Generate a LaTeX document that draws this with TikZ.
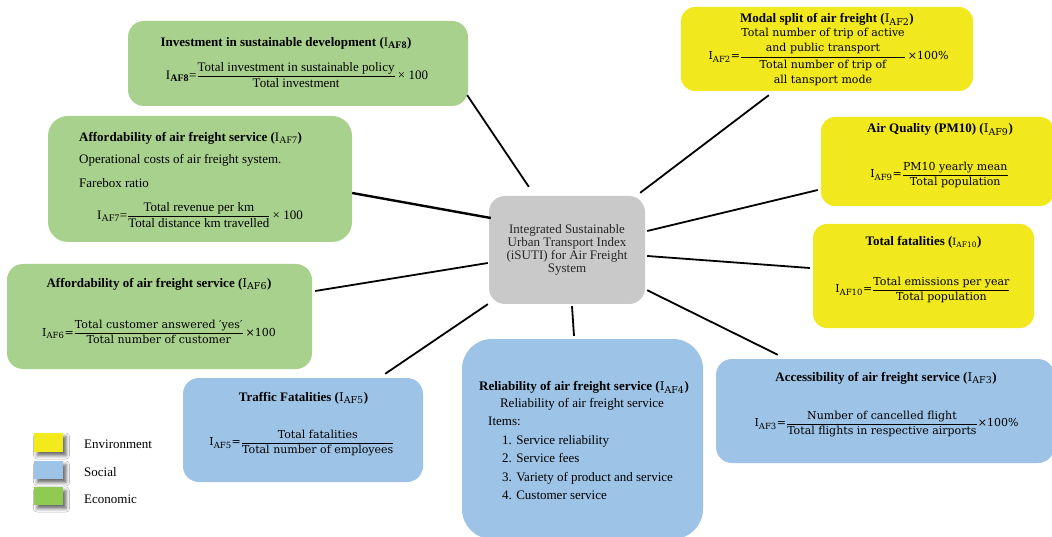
\documentclass[tikz,border=0pt]{standalone}
\usepackage{fontspec}
\usepackage{amsmath}
\setmainfont{Liberation Serif}
\newfontfamily\camb{DejaVu Serif}
\DeclareMathSizes{13}{13}{10}{7}
\DeclareMathSizes{12}{12}{9.5}{7}
\DeclareMathSizes{11}{11}{8.5}{6}
\DeclareMathSizes{10}{10}{7.5}{5}
\usetikzlibrary{calc,shadows.blur}
\definecolor{gfill}{HTML}{A9D18E}
\definecolor{yfill}{HTML}{F1E81D}
\definecolor{bfill}{HTML}{9DC3E6}
\definecolor{cfill}{HTML}{C9C9C9}
\definecolor{legG}{HTML}{8FCB52}
\definecolor{legY}{HTML}{F2EA1A}
\definecolor{legB}{HTML}{9DC3E6}
\newcommand{\myfrac}[2]{$\dfrac{\text{#1}}{\text{#2}}$}
\tikzset{
  panel/.style={draw=none, inner sep=0pt, rounded corners=#1},
  boxG/.style={panel=16pt, fill=gfill},
  boxY/.style={panel=14pt, fill=yfill},
  boxB/.style={panel=16pt, fill=bfill},
  boxC/.style={panel=16pt, fill=cfill},
  txt/.style={inner sep=0pt, font=\fontsize{13}{15}\selectfont},
  ctxt/.style={inner sep=0pt, font=\camb\fontsize{11}{14.5}\selectfont},
  conn/.style={line width=1.8pt, black},
  legbox/.style={draw=none, inner sep=0pt, minimum width=29pt,
     blur shadow={shadow xshift=3pt, shadow yshift=-3.5pt, shadow blur radius=3.5pt, shadow opacity=60}},
}
\begin{document}
\begin{tikzpicture}[x=1pt,y=-1pt]
\useasboundingbox[fill=white] (0,0) rectangle (1052,537);

% ---- boxes ----
\node[boxC, minimum width=156pt, minimum height=108pt] (c) at (567,250) {};
\node[boxG, minimum width=340pt, minimum height=85pt] (af8) at (298,63.5) {};
\node[boxG, panel=20pt, minimum width=304pt, minimum height=126pt] (af7) at (200,179) {};
\node[boxG, minimum width=305pt, minimum height=105pt] (af6) at (159.5,316.5) {};
\node[boxB, minimum width=240pt, minimum height=104pt] (af5) at (303,430) {};
\node[boxB, panel=30pt, minimum width=241pt, minimum height=200pt] (af4) at (582.5,439) {};
\node[boxB, minimum width=338pt, minimum height=104pt] (af3) at (885,411) {};
\node[boxY, minimum width=221pt, minimum height=104pt] (af10) at (923.5,276) {};
\node[boxY, minimum width=233pt, minimum height=89pt] (af9) at (937.5,161.5) {};
\node[boxY, minimum width=292pt, minimum height=84pt] (af2) at (827,49) {};

% ---- connectors ----
\draw[conn] ($(af8.south east)+(-1,-11)$) -- ($(c.north west)+(40,-9)$);
\draw[conn, line width=2.4pt] ($(af7.east)+(0,14)$) -- ($(c.west)+(2,-32)$);
\draw[conn] ($(af6.east)+(3,-25.5)$) -- ($(c.west)+(-1,13)$);
\draw[conn] ($(af5.north east)+(-38,-4)$) -- ($(c.south west)+(-1,0)$);
\draw[conn] ($(af4.north)+(-8.5,-3)$) -- ($(c.south)+(5,2)$);
\draw[conn] ($(af3.north west)+(62,-4)$) -- ($(c.south east)+(2,-14)$);
\draw[conn] ($(af10.west)+(-3,-8)$) -- ($(c.east)+(2,6)$);
\draw[conn] ($(af9.west)+(-3,28.5)$) -- ($(c.east)+(2,-19)$);
\draw[conn] ($(af2.south west)+(88,4)$) -- ($(c.north east)+(-5,-3)$);

% ---- centre text ----
\node[inner sep=0pt, align=center, text=black!85, font=\fontsize{13}{13}\selectfont] (ct) at (567,250)
  {Integrated Sustainable\\Urban Transport Index\\(iSUTI) for Air Freight\\System};

% ---- AF8 ----
\node[txt] (af8t) at (286,43) {\textbf{Investment in sustainable development (}I$_{\textbf{AF8}}$\textbf{)}};
\node[txt] (af8f) at (297,75) {I$_{\textbf{AF8}}$=\myfrac{Total investment in sustainable policy}{Total investment}\,× 100};

% ---- AF7 ----
\node[txt, anchor=west] (af7t) at (79,138) {\textbf{Affordability of air freight service (}I$_{\text{AF7}}$\textbf{)}};
\node[txt, anchor=west] (af7a) at (79,160) {Operational costs of air freight system.};
\node[txt, anchor=west] (af7b) at (79,183) {Farebox ratio};
\node[txt] (af7f) at (200,215) {I$_{\text{AF7}}$=\myfrac{Total revenue per km}{Total distance km travelled}\,× 100};

% ---- AF6 ----
\node[txt] (af6t) at (159,284) {\textbf{Affordability of air freight service (}{\camb\fontsize{12}{14}\selectfont I$_{\text{AF6}}$}\textbf{)}};
\node[ctxt] (af6f) at (159,332) {I$_{\text{AF6}}$=\myfrac{Total customer answered ′yes′}{Total number of customer}\,×100};

% ---- AF5 ----
\node[txt] (af5t) at (303.5,398) {\textbf{Traffic Fatalities (}{\camb\fontsize{12}{14}\selectfont I$_{\text{AF5}}$}\textbf{)}};
\node[ctxt] (af5f) at (302,443) {I$_{\text{AF5}}$=\myfrac{Total fatalities}{Total number of employees}};

% ---- AF4 ----
\node[txt] (af4t) at (584,387) {\textbf{Reliability of air freight service (}{\camb\fontsize{12}{14}\selectfont I$_{\text{AF4}}$}\textbf{)}};
\node[txt, anchor=base] (af4a) at (582,407.5) {Reliability of air freight service};
\node[txt, anchor=base west] (af4b) at (488,425.5) {Items:};
\node[txt, anchor=base west] (af4c) at (502,444.5) {1. Service reliability};
\node[txt, anchor=base west] (af4d) at (502,462.5) {2. Service fees};
\node[txt, anchor=base west] (af4e) at (502,481.5) {3. Variety of product and service};
\node[txt, anchor=base west] (af4f) at (502,499.5) {4. Customer service};

% ---- AF3 ----
\node[txt] (af3t) at (886,378) {\textbf{Accessibility of air freight service (}{\camb\fontsize{12}{14}\selectfont I$_{\text{AF3}}$}\textbf{)}};
\node[ctxt] (af3f) at (886.5,424) {I$_{\text{AF3}}$=\myfrac{Number of cancelled flight}{Total flights in respective airports}×100\%};

% ---- AF10 ----
\node[txt] (af10t) at (923.5,242) {\textbf{Total fatalities (}{\camb\fontsize{10}{12}\selectfont I$_{\text{AF10}}$}\textbf{)}};
\node[ctxt] (af10f) at (923,290) {I$_{\text{AF10}}$=\myfrac{Total emissions per year}{Total population}};

% ---- AF9 ----
\node[txt] (af9t) at (940,130) {\textbf{Air Quality (PM10) (}{\camb\fontsize{12}{14}\selectfont I$_{\text{AF9}}$}\textbf{)}};
\node[ctxt] (af9f) at (939.5,175) {I$_{\text{AF9}}$=\myfrac{PM10 yearly mean}{Total population}};

% ---- AF2 ----
\node[txt] (af2t) at (827,19) {\textbf{Modal split of air freight (}{\camb\fontsize{12}{14}\selectfont I$_{\text{AF2}}$}\textbf{)}};
\node[ctxt] (af2f) at (828.5,57) {I$_{\text{AF2}}$=$\dfrac{\text{\begin{tabular}{@{}c@{}}Total number of trip of active\\and public transport\end{tabular}}}{\text{\begin{tabular}{@{}c@{}}Total number of trip of\\all tansport mode\end{tabular}}}$\,×100\%};

% ---- legend ----
\node[legbox, fill=legY, minimum height=19pt] (ly) at (48.5,442.5) {};
\node[legbox, fill=legB, minimum height=18pt] (lb) at (48.5,470) {};
\node[legbox, fill=legG, minimum height=18pt] (lg) at (48.5,496) {};
\node[txt, anchor=west] (lyt) at (84,444) {Environment};
\node[txt, anchor=west] (lbt) at (84,472) {Social};
\node[txt, anchor=west] (lgt) at (84,499) {Economic};
\end{tikzpicture}
\end{document}
